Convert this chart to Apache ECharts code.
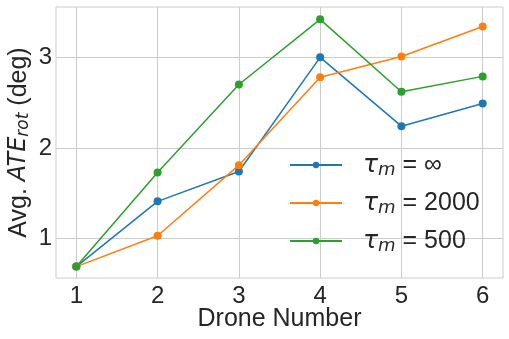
<!DOCTYPE html>
<html>
<head>
<meta charset="utf-8">
<script src="https://cdn.jsdelivr.net/npm/echarts@6/dist/echarts.min.js"></script>
<style>
  html, body { margin: 0; padding: 0; background: #fff; }
  #chart { width: 509px; height: 339px; }
</style>
</head>
<body>
<div id="chart"></div>
<script>
  // drone counts on the x axis
  const droneNumbers = [1, 2, 3, 4, 5, 6]
  // avg rotational ATE (deg) per series
  const ateInf = [0.69, 1.41, 1.74, 3.0, 2.24, 2.49]
  const ate2000 = [0.69, 1.03, 1.81, 2.78, 3.01, 3.34]
  const ate500 = [0.69, 1.73, 2.70, 3.42, 2.62, 2.79]
  const seriesNames = ['inf', '2000', '500']
  const legendLabels = ['∞', '2000', '500']
  const yTicks = [1, 2, 3]

  const colors = ['#1f77b4', '#ff7f0e', '#2ca02c']
  const font = 'Liberation Sans'
  const mathFont = 'DejaVu Sans' // math bits (tau, ATE) like mathtext
  const textColor = '#262626'

  const chart = echarts.init(document.getElementById('chart'))

  const pairs = vals => droneNumbers.map((d, i) => [d, vals[i]])

  const makeSeries = (name, vals, color) => ({
    type: 'line',
    name: name,
    data: pairs(vals),
    symbol: 'circle',
    symbolSize: 8,
    showSymbol: true,
    color: color,
    lineStyle: { width: 1.5, color: color },
    itemStyle: { color: color },
    emphasis: { disabled: true }
  })

  chart.setOption({
    animation: false,
    backgroundColor: '#fff',
    grid: {
      left: 56, top: 7, right: 6, bottom: 61,
      outerBoundsMode: 'none',
      containLabel: false,
      show: true,
      borderColor: '#cccccc',
      borderWidth: 1,
      backgroundColor: '#fff'
    },
    legend: {
      orient: 'vertical',
      left: 284,
      top: 145,
      itemWidth: 52,
      itemHeight: 8,
      itemGap: 8,
      data: seriesNames,
      formatter: function (name) {
        const i = seriesNames.indexOf(name)
        return '{t|τ}{s|m}{n| = ' + legendLabels[i] + '}'
      },
      textStyle: {
        color: textColor,
        fontFamily: font,
        fontSize: 25,
        lineHeight: 30,
        padding: [0, 0, 0, 16],
        rich: {
          t: { fontFamily: mathFont, fontStyle: 'italic', fontSize: 25, color: textColor },
          s: { fontFamily: mathFont, fontStyle: 'italic', fontSize: 18, color: textColor, padding: [10, 0, 0, 0] },
          n: { fontFamily: font, fontSize: 25, color: textColor }
        }
      }
    },
    xAxis: {
      type: 'value',
      min: 0.75,
      max: 6.25,
      name: 'Drone Number',
      nameLocation: 'middle',
      nameGap: 29,
      nameMoveOverlap: false,
      nameTextStyle: { fontFamily: font, fontSize: 25, color: textColor, verticalAlign: 'top' },
      axisLine: { show: false },
      axisTick: { show: false, customValues: droneNumbers },
      axisLabel: {
        customValues: droneNumbers,
        fontFamily: font, fontSize: 24, color: textColor, margin: 6
      },
      splitLine: { show: true, lineStyle: { color: '#cccccc', width: 1 } }
    },
    yAxis: {
      type: 'value',
      min: 0.564,
      max: 3.556,
      name: '{n|Avg. }{i|ATE}{s|rot}{n| (deg)}',
      nameLocation: 'middle',
      nameRotate: 90,
      nameGap: 24,
      nameMoveOverlap: false,
      nameTextStyle: {
        color: textColor,
        verticalAlign: 'bottom',
        rich: {
          n: { fontFamily: font, fontSize: 25, color: textColor },
          i: { fontFamily: mathFont, fontStyle: 'italic', fontSize: 24, color: textColor },
          s: { fontFamily: mathFont, fontStyle: 'italic', fontSize: 17, color: textColor, padding: [9, 0, 0, 0] }
        }
      },
      axisLine: { show: false },
      axisTick: { show: false, customValues: yTicks },
      axisLabel: {
        customValues: yTicks,
        fontFamily: font, fontSize: 24, color: textColor, margin: 4
      },
      splitLine: { show: true, lineStyle: { color: '#cccccc', width: 1 } }
    },
    series: [
      makeSeries(seriesNames[0], ateInf, colors[0]),
      makeSeries(seriesNames[1], ate2000, colors[1]),
      makeSeries(seriesNames[2], ate500, colors[2])
    ]
  })
</script>
</body>
</html>
